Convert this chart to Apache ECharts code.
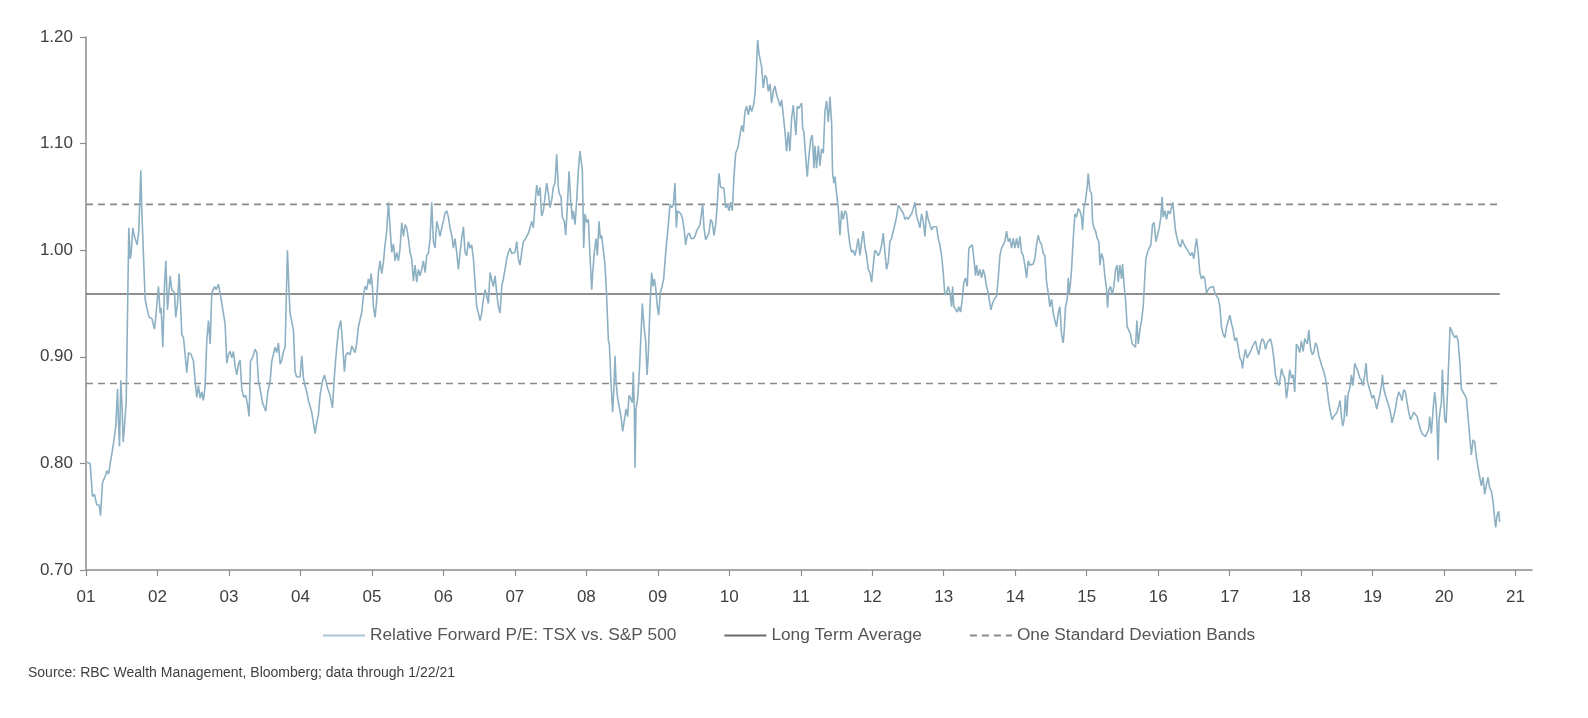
<!DOCTYPE html>
<html>
<head>
<meta charset="utf-8">
<script src="https://cdn.jsdelivr.net/npm/echarts@6/dist/echarts.min.js"></script>
<style>
html,body{margin:0;padding:0;background:#fff;}
#chart{width:1588px;height:718px;}
</style>
</head>
<body>
<div id="chart"></div>
<script>
// Relative forward P/E, TSX vs. S&P 500: [decimal year, ratio]
const relativePE = [
[2001.012,0.801],[2001.058,0.800],[2001.091,0.769],[2001.119,0.771],[2001.151,0.761],[2001.184,0.761],[2001.203,0.751],[2001.231,0.782],[2001.268,0.788],[2001.291,0.793],
[2001.315,0.790],[2001.347,0.803],[2001.385,0.819],[2001.417,0.835],[2001.441,0.870],[2001.455,0.838],[2001.469,0.816],[2001.487,0.878],[2001.506,0.851],[2001.520,0.820],
[2001.538,0.835],[2001.562,0.857],[2001.580,0.856],[2001.599,1.021],[2001.618,0.992],[2001.632,0.997],[2001.655,1.021],[2001.678,1.013],[2001.716,1.005],[2001.739,1.019],
[2001.767,1.075],[2001.781,1.037],[2001.804,0.995],[2001.828,0.954],[2001.851,0.946],[2001.884,0.937],[2001.921,0.936],[2001.958,0.926],[2001.981,0.941],[2002.014,0.966],
[2002.037,0.941],[2002.051,0.946],[2002.075,0.909],[2002.098,0.966],[2002.117,0.990],[2002.140,0.944],[2002.163,0.963],[2002.177,0.976],[2002.200,0.963],[2002.238,0.960],
[2002.256,0.937],[2002.280,0.950],[2002.303,0.978],[2002.322,0.950],[2002.340,0.921],[2002.364,0.918],[2002.387,0.902],[2002.410,0.885],[2002.434,0.904],[2002.471,0.902],
[2002.503,0.896],[2002.527,0.877],[2002.550,0.862],[2002.573,0.873],[2002.597,0.861],[2002.620,0.867],[2002.643,0.859],[2002.667,0.873],[2002.690,0.915],[2002.713,0.934],
[2002.737,0.912],[2002.760,0.960],[2002.797,0.966],[2002.821,0.963],[2002.853,0.968],[2002.876,0.960],[2002.900,0.950],[2002.923,0.950],[2002.946,0.931],[2002.970,0.894],
[2002.993,0.902],[2003.016,0.905],[2003.040,0.899],[2003.063,0.905],[2003.086,0.891],[2003.110,0.883],[2003.133,0.893],[2003.156,0.897],[2003.179,0.870],[2003.207,0.862],
[2003.235,0.864],[2003.263,0.854],[2003.282,0.844],[2003.301,0.896],[2003.329,0.899],[2003.366,0.907],[2003.389,0.904],[2003.413,0.877],[2003.436,0.870],[2003.469,0.857],
[2003.497,0.852],[2003.515,0.849],[2003.543,0.867],[2003.576,0.877],[2003.599,0.896],[2003.622,0.897],[2003.646,0.909],[2003.669,0.904],[2003.692,0.913],[2003.716,0.893],
[2003.739,0.897],[2003.762,0.905],[2003.786,0.909],[2003.818,1.000],[2003.841,0.960],[2003.855,0.941],[2003.879,0.942],[2003.902,0.925],[2003.925,0.886],[2003.949,0.881],
[2003.972,0.880],[2003.995,0.881],[2004.019,0.901],[2004.042,0.880],[2004.065,0.873],[2004.089,0.867],[2004.112,0.859],[2004.158,0.848],[2004.182,0.838],[2004.205,0.828],
[2004.228,0.838],[2004.252,0.846],[2004.275,0.864],[2004.308,0.877],[2004.336,0.883],[2004.354,0.883],[2004.382,0.870],[2004.415,0.864],[2004.448,0.852],[2004.476,0.883],
[2004.508,0.909],[2004.531,0.925],[2004.564,0.934],[2004.587,0.915],[2004.615,0.886],[2004.634,0.901],[2004.662,0.904],[2004.695,0.902],[2004.718,0.910],[2004.741,0.907],
[2004.765,0.904],[2004.788,0.913],[2004.811,0.928],[2004.835,0.929],[2004.858,0.942],[2004.881,0.957],[2004.904,0.966],[2004.928,0.963],[2004.951,0.973],[2004.974,0.968],
[2004.988,0.978],[2005.007,0.966],[2005.021,0.947],[2005.044,0.937],[2005.068,0.954],[2005.091,0.979],[2005.114,0.990],[2005.138,0.978],[2005.161,0.989],[2005.184,1.005],
[2005.207,1.018],[2005.231,1.045],[2005.254,1.021],[2005.277,0.998],[2005.301,1.006],[2005.324,0.990],[2005.347,0.998],[2005.371,0.990],[2005.394,1.002],[2005.417,1.026],
[2005.441,1.013],[2005.464,1.024],[2005.487,1.021],[2005.510,1.011],[2005.534,0.998],[2005.557,0.992],[2005.580,0.971],[2005.604,0.986],[2005.627,0.970],[2005.650,0.982],
[2005.674,0.976],[2005.697,0.982],[2005.720,0.990],[2005.744,0.979],[2005.767,0.995],[2005.790,0.997],[2005.814,1.011],[2005.837,1.045],[2005.860,1.008],[2005.883,1.002],
[2005.907,1.027],[2005.930,1.021],[2005.953,1.013],[2005.977,1.021],[2006.000,1.027],[2006.023,1.035],[2006.047,1.037],[2006.070,1.031],[2006.093,1.021],[2006.117,1.014],
[2006.140,1.002],[2006.163,1.011],[2006.186,0.998],[2006.210,0.982],[2006.233,0.998],[2006.256,1.011],[2006.280,1.022],[2006.303,0.998],[2006.326,0.995],[2006.350,1.008],
[2006.373,1.002],[2006.396,1.005],[2006.420,0.992],[2006.443,0.970],[2006.466,0.947],[2006.490,0.941],[2006.513,0.934],[2006.536,0.941],[2006.559,0.954],[2006.583,0.963],
[2006.606,0.957],[2006.629,0.950],[2006.653,0.979],[2006.676,0.979],[2006.699,0.966],[2006.723,0.976],[2006.746,0.960],[2006.769,0.947],[2006.793,0.941],[2006.816,0.966],
[2006.839,0.973],[2006.862,0.982],[2006.886,0.992],[2006.909,0.998],[2006.932,1.002],[2006.956,0.997],[2006.979,0.998],[2007.002,0.998],[2007.026,1.008],[2007.049,0.992],
[2007.072,0.986],[2007.096,0.998],[2007.119,1.008],[2007.142,1.010],[2007.166,1.011],[2007.189,1.016],[2007.212,1.021],[2007.235,1.027],[2007.259,1.021],[2007.282,1.043],
[2007.305,1.061],[2007.329,1.051],[2007.352,1.059],[2007.375,1.032],[2007.399,1.037],[2007.422,1.050],[2007.445,1.063],[2007.469,1.053],[2007.492,1.040],[2007.515,1.047],
[2007.538,1.059],[2007.562,1.063],[2007.585,1.090],[2007.608,1.059],[2007.622,1.053],[2007.646,1.050],[2007.664,1.031],[2007.692,1.027],[2007.711,1.014],[2007.734,1.040],
[2007.758,1.074],[2007.781,1.047],[2007.804,1.029],[2007.818,1.037],[2007.842,1.024],[2007.865,1.047],[2007.888,1.075],[2007.911,1.093],[2007.925,1.093],[2007.944,1.075],
[2007.963,1.002],[2007.981,1.034],[2008.005,1.026],[2008.028,1.029],[2008.051,0.995],[2008.075,0.963],[2008.089,0.979],[2008.112,0.998],[2008.135,1.011],[2008.154,0.995],
[2008.177,1.027],[2008.196,1.011],[2008.214,1.014],[2008.238,1.014],[2008.261,0.986],[2008.284,0.957],[2008.308,0.915],[2008.322,0.912],[2008.340,0.883],[2008.354,0.864],
[2008.368,0.848],[2008.387,0.873],[2008.401,0.901],[2008.415,0.877],[2008.438,0.861],[2008.462,0.862],[2008.485,0.844],[2008.508,0.830],[2008.531,0.830],[2008.555,0.851],
[2008.578,0.844],[2008.597,0.864],[2008.620,0.861],[2008.643,0.857],[2008.657,0.886],[2008.671,0.851],[2008.681,0.796],[2008.695,0.851],[2008.718,0.861],[2008.741,0.886],
[2008.765,0.921],[2008.783,0.950],[2008.807,0.928],[2008.830,0.915],[2008.849,0.883],[2008.867,0.902],[2008.890,0.947],[2008.914,0.979],[2008.932,0.966],[2008.951,0.973],
[2008.970,0.965],[2008.993,0.947],[2009.012,0.939],[2009.035,0.960],[2009.058,0.966],[2009.082,0.973],[2009.100,0.989],[2009.124,1.008],[2009.147,1.024],[2009.170,1.043],
[2009.194,1.040],[2009.217,1.043],[2009.240,1.063],[2009.259,1.021],[2009.277,1.037],[2009.296,1.037],[2009.324,1.034],[2009.347,1.029],[2009.371,1.018],[2009.389,1.005],
[2009.413,1.014],[2009.441,1.016],[2009.464,1.011],[2009.497,1.011],[2009.520,1.013],[2009.543,1.018],[2009.566,1.018],[2009.590,1.024],[2009.613,1.024],[2009.627,1.043],
[2009.646,1.021],[2009.669,1.010],[2009.692,1.011],[2009.716,1.016],[2009.739,1.029],[2009.762,1.026],[2009.786,1.014],[2009.809,1.024],[2009.832,1.043],[2009.855,1.072],
[2009.879,1.059],[2009.902,1.058],[2009.925,1.058],[2009.949,1.040],[2009.972,1.043],[2009.995,1.037],[2010.019,1.045],[2010.042,1.037],[2010.065,1.069],[2010.089,1.091],
[2010.112,1.095],[2010.126,1.098],[2010.149,1.108],[2010.173,1.117],[2010.196,1.111],[2010.219,1.130],[2010.242,1.135],[2010.266,1.127],[2010.289,1.136],[2010.312,1.130],
[2010.336,1.135],[2010.359,1.146],[2010.378,1.168],[2010.396,1.197],[2010.415,1.185],[2010.434,1.178],[2010.452,1.172],[2010.476,1.152],[2010.499,1.164],[2010.522,1.162],
[2010.545,1.149],[2010.569,1.156],[2010.592,1.138],[2010.615,1.149],[2010.639,1.154],[2010.662,1.146],[2010.685,1.141],[2010.709,1.135],[2010.732,1.141],[2010.755,1.127],
[2010.779,1.111],[2010.802,1.093],[2010.825,1.111],[2010.848,1.093],[2010.872,1.124],[2010.895,1.136],[2010.918,1.136],[2010.932,1.108],[2010.951,1.135],[2010.974,1.133],
[2010.988,1.133],[2011.012,1.138],[2011.026,1.114],[2011.044,1.111],[2011.068,1.088],[2011.091,1.069],[2011.114,1.088],[2011.138,1.104],[2011.161,1.108],[2011.184,1.077],
[2011.198,1.098],[2011.221,1.077],[2011.245,1.098],[2011.268,1.079],[2011.291,1.095],[2011.315,1.091],[2011.338,1.130],[2011.361,1.140],[2011.385,1.120],[2011.408,1.144],
[2011.431,1.120],[2011.445,1.072],[2011.464,1.063],[2011.478,1.069],[2011.501,1.053],[2011.524,1.040],[2011.548,1.014],[2011.571,1.037],[2011.594,1.029],[2011.618,1.037],
[2011.641,1.034],[2011.664,1.018],[2011.688,1.005],[2011.711,0.998],[2011.734,1.000],[2011.758,0.995],[2011.781,1.002],[2011.804,1.011],[2011.828,0.995],[2011.851,1.008],
[2011.874,1.018],[2011.897,1.003],[2011.921,0.995],[2011.944,0.982],[2011.967,0.979],[2011.991,0.970],[2012.014,0.986],[2012.037,1.000],[2012.061,0.998],[2012.084,0.995],
[2012.107,0.998],[2012.131,1.005],[2012.154,1.016],[2012.177,0.998],[2012.200,0.982],[2012.224,0.989],[2012.247,1.008],[2012.270,1.011],[2012.294,1.018],[2012.317,1.019],
[2012.340,1.031],[2012.364,1.042],[2012.387,1.040],[2012.410,1.037],[2012.434,1.035],[2012.457,1.029],[2012.480,1.031],[2012.504,1.029],[2012.527,1.032],[2012.550,1.034],
[2012.573,1.039],[2012.597,1.045],[2012.620,1.032],[2012.643,1.027],[2012.667,1.021],[2012.690,1.034],[2012.713,1.027],[2012.737,1.013],[2012.760,1.037],[2012.783,1.029],
[2012.807,1.024],[2012.830,1.019],[2012.853,1.022],[2012.876,1.021],[2012.900,1.022],[2012.923,1.011],[2012.946,1.005],[2012.970,0.995],[2012.993,0.979],[2013.016,0.958],
[2013.040,0.960],[2013.063,0.966],[2013.086,0.960],[2013.110,0.947],[2013.124,0.966],[2013.142,0.947],[2013.166,0.946],[2013.189,0.942],[2013.212,0.947],[2013.235,0.942],
[2013.259,0.954],[2013.282,0.970],[2013.305,0.974],[2013.329,0.966],[2013.352,1.002],[2013.375,1.003],[2013.399,1.005],[2013.422,0.992],[2013.445,0.976],[2013.459,0.986],
[2013.483,0.976],[2013.506,0.982],[2013.529,0.974],[2013.552,0.982],[2013.576,0.976],[2013.599,0.966],[2013.622,0.960],[2013.646,0.950],[2013.660,0.944],[2013.683,0.950],
[2013.706,0.954],[2013.739,0.957],[2013.762,0.973],[2013.786,0.995],[2013.809,1.002],[2013.832,1.002],[2013.855,1.008],[2013.879,1.018],[2013.902,1.008],[2013.925,1.011],
[2013.949,1.002],[2013.972,1.011],[2013.995,1.002],[2014.019,1.011],[2014.042,1.002],[2014.065,1.013],[2014.089,0.998],[2014.112,0.995],[2014.135,0.986],[2014.159,0.974],
[2014.182,0.990],[2014.205,0.986],[2014.228,0.986],[2014.252,0.987],[2014.275,0.992],[2014.298,1.005],[2014.322,1.014],[2014.345,1.008],[2014.369,1.005],[2014.392,0.997],
[2014.415,0.995],[2014.439,0.970],[2014.462,0.960],[2014.485,0.947],[2014.509,0.954],[2014.532,0.941],[2014.555,0.934],[2014.578,0.928],[2014.602,0.941],[2014.625,0.947],
[2014.648,0.921],[2014.672,0.913],[2014.686,0.925],[2014.704,0.947],[2014.728,0.954],[2014.742,0.974],[2014.756,0.960],[2014.774,0.970],[2014.788,0.982],[2014.812,1.011],
[2014.835,1.034],[2014.858,1.031],[2014.881,1.039],[2014.905,1.037],[2014.928,1.031],[2014.942,1.019],[2014.961,1.040],[2014.984,1.047],[2015.007,1.059],[2015.021,1.072],
[2015.045,1.056],[2015.068,1.053],[2015.082,1.027],[2015.101,1.021],[2015.124,1.018],[2015.147,1.011],[2015.171,1.008],[2015.185,0.986],[2015.208,0.997],[2015.231,0.992],
[2015.254,0.976],[2015.278,0.963],[2015.292,0.946],[2015.310,0.963],[2015.334,0.966],[2015.357,0.958],[2015.380,0.966],[2015.404,0.982],[2015.427,0.986],[2015.441,0.970],
[2015.464,0.986],[2015.488,0.973],[2015.502,0.987],[2015.525,0.966],[2015.543,0.954],[2015.567,0.928],[2015.590,0.925],[2015.613,0.921],[2015.637,0.912],[2015.660,0.912],
[2015.683,0.909],[2015.702,0.934],[2015.721,0.912],[2015.744,0.925],[2015.767,0.934],[2015.791,0.947],[2015.814,0.976],[2015.828,0.992],[2015.851,0.998],[2015.874,1.002],
[2015.898,1.005],[2015.921,1.024],[2015.944,1.026],[2015.968,1.008],[2015.991,1.014],[2016.014,1.021],[2016.038,1.031],[2016.056,1.050],[2016.070,1.031],[2016.094,1.037],
[2016.117,1.029],[2016.140,1.037],[2016.164,1.034],[2016.187,1.040],[2016.205,1.045],[2016.224,1.031],[2016.243,1.018],[2016.266,1.011],[2016.289,1.005],[2016.313,1.003],
[2016.336,1.010],[2016.359,1.006],[2016.383,1.003],[2016.406,1.003],[2016.429,0.998],[2016.453,0.995],[2016.476,0.998],[2016.499,0.992],[2016.523,1.005],[2016.537,1.011],
[2016.560,0.998],[2016.583,0.979],[2016.606,0.973],[2016.630,0.976],[2016.653,0.973],[2016.676,0.960],[2016.700,0.963],[2016.723,0.965],[2016.746,0.965],[2016.770,0.966],
[2016.793,0.960],[2016.816,0.957],[2016.840,0.955],[2016.863,0.947],[2016.886,0.928],[2016.909,0.921],[2016.933,0.918],[2016.956,0.928],[2016.979,0.928],[2017.003,0.939],
[2017.026,0.931],[2017.049,0.925],[2017.073,0.915],[2017.096,0.918],[2017.119,0.909],[2017.143,0.899],[2017.166,0.896],[2017.180,0.889],[2017.198,0.899],[2017.222,0.907],
[2017.245,0.899],[2017.268,0.902],[2017.292,0.905],[2017.315,0.909],[2017.338,0.912],[2017.362,0.915],[2017.385,0.907],[2017.408,0.902],[2017.432,0.912],[2017.455,0.917],
[2017.478,0.915],[2017.502,0.907],[2017.525,0.913],[2017.548,0.915],[2017.571,0.917],[2017.595,0.910],[2017.618,0.899],[2017.641,0.883],[2017.665,0.877],[2017.688,0.873],
[2017.701,0.877],[2017.725,0.889],[2017.748,0.883],[2017.771,0.880],[2017.795,0.861],[2017.818,0.873],[2017.841,0.888],[2017.865,0.880],[2017.888,0.883],[2017.911,0.867],
[2017.934,0.912],[2017.958,0.909],[2017.981,0.904],[2018.004,0.915],[2018.028,0.905],[2018.051,0.917],[2018.074,0.918],[2018.088,0.912],[2018.107,0.925],[2018.130,0.909],
[2018.154,0.902],[2018.177,0.904],[2018.200,0.913],[2018.224,0.910],[2018.247,0.901],[2018.270,0.896],[2018.293,0.891],[2018.317,0.886],[2018.340,0.880],[2018.363,0.870],
[2018.387,0.857],[2018.410,0.848],[2018.433,0.841],[2018.457,0.844],[2018.480,0.844],[2018.503,0.848],[2018.527,0.854],[2018.545,0.859],[2018.564,0.844],[2018.582,0.835],
[2018.601,0.841],[2018.620,0.864],[2018.638,0.844],[2018.657,0.865],[2018.680,0.870],[2018.704,0.883],[2018.727,0.873],[2018.750,0.894],[2018.774,0.893],[2018.797,0.886],
[2018.820,0.880],[2018.844,0.878],[2018.867,0.873],[2018.890,0.883],[2018.909,0.894],[2018.927,0.877],[2018.946,0.877],[2018.969,0.867],[2018.993,0.861],[2019.016,0.864],
[2019.039,0.857],[2019.058,0.851],[2019.077,0.857],[2019.100,0.864],[2019.123,0.873],[2019.137,0.883],[2019.156,0.870],[2019.179,0.864],[2019.203,0.859],[2019.226,0.854],
[2019.249,0.848],[2019.272,0.838],[2019.296,0.838],[2019.319,0.851],[2019.342,0.861],[2019.366,0.867],[2019.389,0.864],[2019.412,0.859],[2019.436,0.869],[2019.459,0.867],
[2019.482,0.857],[2019.506,0.848],[2019.529,0.841],[2019.552,0.844],[2019.575,0.848],[2019.599,0.848],[2019.622,0.844],[2019.645,0.838],[2019.669,0.832],[2019.692,0.828],
[2019.715,0.827],[2019.739,0.825],[2019.762,0.824],[2019.785,0.832],[2019.799,0.844],[2019.823,0.828],[2019.846,0.851],[2019.869,0.867],[2019.888,0.854],[2019.902,0.835],
[2019.916,0.803],[2019.930,0.841],[2019.948,0.851],[2019.962,0.857],[2019.976,0.888],[2019.990,0.867],[2020.009,0.841],[2020.028,0.838],[2020.046,0.864],[2020.065,0.896],
[2020.084,0.928],[2020.102,0.925],[2020.126,0.921],[2020.149,0.918],[2020.172,0.920],[2020.196,0.915],[2020.219,0.896],[2020.242,0.870],[2020.265,0.869],[2020.289,0.864],
[2020.312,0.861],[2020.335,0.844],[2020.359,0.825],[2020.382,0.808],[2020.405,0.822],[2020.429,0.820],[2020.452,0.806],[2020.475,0.796],[2020.499,0.787],[2020.522,0.779],
[2020.545,0.787],[2020.568,0.771],[2020.592,0.780],[2020.615,0.787],[2020.638,0.777],[2020.662,0.774],[2020.685,0.764],[2020.708,0.748],[2020.722,0.740],[2020.741,0.751],
[2020.764,0.755],[2020.778,0.745]
];
const longTermAverage = 0.959;
const stdBandUpper = 1.043;
const stdBandLower = 0.875;
const lineStart = 2001.0;
const lineEnd = 2020.778;
const yearTicks = [2001,2002,2003,2004,2005,2006,2007,2008,2009,2010,2011,2012,2013,2014,2015,2016,2017,2018,2019,2020,2021];
const yTicks = [0.70,0.80,0.90,1.00,1.10,1.20];
const seriesNames = ['Relative Forward P/E: TSX vs. S&P 500','Long Term Average','One Standard Deviation Bands'];
const sourceNote = 'Source: RBC Wealth Management, Bloomberg; data through 1/22/21';

const FONT = '"Liberation Sans", Arial, sans-serif';
const axisGray = '#8c8c8c';
const ICON_SOLID = 'path://M0,0H42V2H0Z';
const ICON_DASH = 'path://M0,0H7V2H0Z M12,0H19V2H12Z M24,0H31V2H24Z M36,0H42V2H36Z';
const chart = echarts.init(document.getElementById('chart'), null, {renderer:'canvas'});
chart.setOption({
  animation: false,
  backgroundColor: '#ffffff',
  textStyle: {fontFamily: FONT},
  title: {
    text: sourceNote, left: 28, top: 666, padding: 0,
    textStyle: {fontSize: 14, fontWeight: 'normal', color: '#404040', fontFamily: FONT}
  },
  grid: {left: 86, right: 56, top: 37, bottom: 148, containLabel: false},
  legend: {
    data: [
      {name: seriesNames[0], icon: ICON_SOLID},
      {name: seriesNames[1], icon: ICON_SOLID},
      {name: seriesNames[2], icon: ICON_DASH}
    ],
    left: 318, top: 622, itemWidth: 42, itemHeight: 2, itemGap: 48, symbolKeepAspect: false,
    textStyle: {fontSize: 17.3, color: '#555555', fontFamily: FONT}
  },
  xAxis: {
    type: 'value', min: 2001, max: 2021.23, interval: 1,
    axisLine: {show: true, lineStyle: {color: axisGray, width: 1.5}},
    axisTick: {show: true, length: 6, lineStyle: {color: axisGray, width: 1.2}, customValues: yearTicks},
    axisLabel: {
      customValues: yearTicks, margin: 19, fontSize: 17, color: '#404040', fontFamily: FONT,
      formatter: v => String(Math.round(v) % 100).padStart(2, '0')
    },
    splitLine: {show: false}
  },
  yAxis: {
    type: 'value', min: 0.7, max: 1.2, interval: 0.1,
    axisLine: {show: true, lineStyle: {color: axisGray, width: 1.5}},
    axisTick: {show: true, length: 6, lineStyle: {color: axisGray, width: 1.2}, customValues: yTicks},
    axisLabel: {customValues: yTicks, margin: 13, fontSize: 17, color: '#404040', fontFamily: FONT, formatter: v => v.toFixed(2)},
    splitLine: {show: false}
  },
  series: [
    {
      name: seriesNames[2], type: 'line', symbol: 'none', silent: true, z: 2,
      lineStyle: {color: '#8a8a8a', width: 1.6, type: [7, 5]},
      itemStyle: {color: '#8a8a8a'},
      data: [[lineStart, stdBandUpper], [lineEnd, stdBandUpper]]
    },
    {
      name: seriesNames[2], type: 'line', symbol: 'none', silent: true, z: 2,
      lineStyle: {color: '#8a8a8a', width: 1.6, type: [7, 5]},
      itemStyle: {color: '#8a8a8a'},
      data: [[lineStart, stdBandLower], [lineEnd, stdBandLower]]
    },
    {
      name: seriesNames[1], type: 'line', symbol: 'none', silent: true, z: 2,
      lineStyle: {color: '#6a6a6a', width: 1.5},
      itemStyle: {color: '#6a6a6a'},
      data: [[lineStart, longTermAverage], [lineEnd, longTermAverage]]
    },
    {
      name: seriesNames[0], type: 'line', symbol: 'none', z: 3,
      lineStyle: {color: '#8db1c3', width: 1.6},
      itemStyle: {color: '#a9c4d2'},
      data: relativePE
    }
  ]
});
</script>
</body>
</html>
